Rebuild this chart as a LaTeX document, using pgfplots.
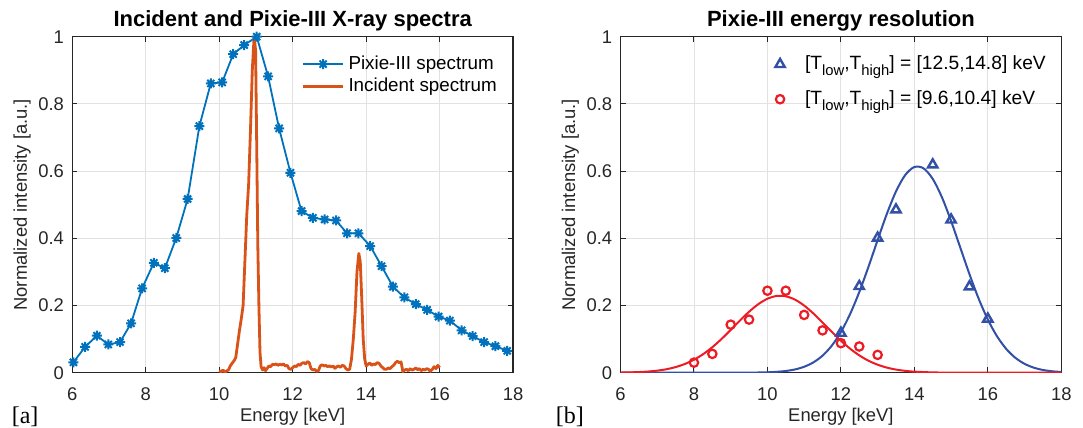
\documentclass[border=0pt]{standalone}
\usepackage{fontspec}
\setmainfont{Liberation Sans}
\newfontfamily\timesfont{Liberation Serif}
\usepackage{pgfplots}
\pgfplotsset{compat=1.18}

\definecolor{mblue}{rgb}{0,0.447,0.741}
\definecolor{morange}{rgb}{0.85,0.325,0.098}
\definecolor{fitblue}{RGB}{50,80,165}
\definecolor{fitred}{RGB}{236,28,36}
\definecolor{axgray}{RGB}{38,38,38}
\definecolor{gridgray}{RGB}{226,226,226}

% matlab-like asterisk (+ and x)
\pgfdeclareplotmark{mlstar}{%
  \pgfpathmoveto{\pgfpoint{-\pgfplotmarksize}{0pt}}\pgfpathlineto{\pgfpoint{\pgfplotmarksize}{0pt}}%
  \pgfpathmoveto{\pgfpoint{0pt}{-\pgfplotmarksize}}\pgfpathlineto{\pgfpoint{0pt}{\pgfplotmarksize}}%
  \pgfpathmoveto{\pgfpoint{-0.707\pgfplotmarksize}{-0.707\pgfplotmarksize}}\pgfpathlineto{\pgfpoint{0.707\pgfplotmarksize}{0.707\pgfplotmarksize}}%
  \pgfpathmoveto{\pgfpoint{-0.707\pgfplotmarksize}{0.707\pgfplotmarksize}}\pgfpathlineto{\pgfpoint{0.707\pgfplotmarksize}{-0.707\pgfplotmarksize}}%
  \pgfusepathqstroke}

\newcommand{\sub}[1]{\raisebox{-2.8pt}{\fontsize{7.4}{8}\selectfont #1}}

\pgfplotsset{
  mlaxis/.style={
    scale only axis, width=220.4pt, height=168pt,
    xmin=6, xmax=18, ymin=0, ymax=1,
    xtick={6,8,10,12,14,16,18}, ytick={0,0.2,0.4,0.6,0.8,1},
    tick align=inside, major tick length=2.6pt,
    axis line style={axgray, line width=0.6pt},
    tick style={axgray, line width=0.5pt},
    grid=major, major grid style={gridgray, line width=0.45pt},
    ticklabel style={font=\fontsize{9.2}{10}\selectfont, text=axgray, inner sep=1.5pt},
    xticklabel shift=6pt,
    yticklabel style={xshift=-1pt},
    yticklabel shift=1.5pt,
    /pgf/number format/assume math mode=true,
    xlabel={Energy [keV]},
    ylabel={Normalized intensity [a.u.]},
    label style={font=\fontsize{9.2}{10}\selectfont, text=axgray, inner sep=1pt},
    xlabel style={at={(axis description cs:0.5,-0.13)}, anchor=center},
    ylabel style={at={(axis description cs:-0.114,0.5)}, anchor=center},
    every axis title shift=0pt,
    title style={font=\bfseries\fontsize{11}{12}\selectfont, at={(axis description cs:0.5,1.029)}, anchor=base},
  }
}

\begin{document}
\begin{tikzpicture}
\useasboundingbox (-36.15pt,-27.65pt) rectangle (505.35pt,186.35pt);

\begin{axis}[mlaxis,
  at={(0pt,0pt)}, anchor=south west,
  title={Incident and Pixie-III X-ray spectra},
  legend style={at={(0.515,0.962)}, anchor=north west, draw=none, fill=none,
    font=\fontsize{9.4}{10}\selectfont, text=black, inner sep=1pt, row sep=-1.2pt},
  legend cell align=left,
  legend image code/.code={\draw[mark repeat=2,mark phase=2,#1] plot coordinates {(0pt,0pt) (10pt,0pt) (20pt,0pt)};},
  after end axis/.code={\node[font=\timesfont\fontsize{12}{13}\selectfont, text=black] at (axis description cs:-0.107,-0.131) {[a]};},
]
\addplot[mblue, line width=0.9pt, mark=mlstar, mark size=2.5pt, mark options={line width=1pt}] coordinates {
  (6.03,0.031) (6.35,0.077) (6.67,0.110) (6.98,0.084) (7.30,0.091)
  (7.60,0.147) (7.90,0.251) (8.22,0.327) (8.52,0.311) (8.83,0.401)
  (9.14,0.517) (9.46,0.734) (9.77,0.861) (10.08,0.864) (10.38,0.948)
  (10.68,0.975) (11.02,1.000) (11.33,0.882) (11.63,0.727) (11.94,0.595)
  (12.24,0.481) (12.55,0.461) (12.87,0.456) (13.18,0.453) (13.48,0.415)
  (13.79,0.415) (14.11,0.377) (14.42,0.317) (14.73,0.256) (15.04,0.224)
  (15.35,0.204) (15.66,0.187) (15.97,0.167) (16.28,0.155) (16.60,0.126)
  (16.90,0.109) (17.21,0.091) (17.52,0.079) (17.84,0.065)
};
\addlegendentry{Pixie-III spectrum}
\addplot[morange, line width=1.4pt, line join=round] coordinates {
  (10.00,0.006) (10.05,0.003) (10.10,0.008) (10.15,0.002) (10.20,0.005)
  (10.25,0.008) (10.30,0.020) (10.35,0.028) (10.40,0.035) (10.45,0.045)
  (10.50,0.085) (10.55,0.125) (10.60,0.160) (10.65,0.200) (10.70,0.335)
  (10.75,0.470) (10.80,0.560) (10.85,0.720) (10.90,0.900) (10.95,1.000)
  (10.99,0.960) (11.02,0.680) (11.05,0.380) (11.08,0.200) (11.11,0.060)
  (11.14,0.018) (11.18,0.008) (11.22,0.015) (11.26,0.006) (11.30,0.012)
  (11.35,0.020) (11.40,0.018) (11.45,0.025) (11.50,0.024) (11.55,0.026)
  (11.60,0.022) (11.65,0.025) (11.70,0.023) (11.75,0.026) (11.80,0.020)
  (11.85,0.022) (11.90,0.012) (11.95,0.010) (12.00,0.015) (12.05,0.020)
  (12.10,0.018) (12.15,0.025) (12.20,0.022) (12.25,0.028) (12.30,0.030)
  (12.35,0.026) (12.40,0.033) (12.45,0.030) (12.50,0.012) (12.55,0.008)
  (12.60,0.010) (12.65,0.004) (12.70,0.006) (12.75,0.020) (12.80,0.024)
  (12.85,0.020) (12.90,0.022) (12.95,0.018) (13.00,0.020) (13.05,0.017)
  (13.10,0.020) (13.15,0.013) (13.20,0.018) (13.25,0.020) (13.30,0.016)
  (13.35,0.022) (13.40,0.020) (13.45,0.012) (13.50,0.008) (13.55,0.010)
  (13.60,0.040) (13.65,0.100) (13.70,0.180) (13.75,0.300) (13.80,0.355)
  (13.84,0.330) (13.88,0.220) (13.92,0.100) (13.96,0.040) (14.00,0.020)
  (14.05,0.025) (14.10,0.029) (14.15,0.022) (14.20,0.026) (14.25,0.024)
  (14.30,0.030) (14.35,0.028) (14.40,0.020) (14.45,0.015) (14.50,0.010)
  (14.55,0.010) (14.60,0.014) (14.65,0.012) (14.70,0.018) (14.75,0.022)
  (14.80,0.030) (14.85,0.034) (14.90,0.030) (14.95,0.032) (15.00,0.003)
  (15.05,0.008) (15.10,0.010) (15.15,0.006) (15.20,0.012) (15.25,0.008)
  (15.30,0.010) (15.35,0.014) (15.40,0.009) (15.45,0.012) (15.50,0.006)
  (15.55,0.010) (15.60,0.008) (15.65,0.012) (15.70,0.010) (15.75,0.004)
  (15.80,0.010) (15.85,0.018) (15.90,0.012) (15.95,0.022) (16.00,0.015)
};
\addlegendentry{Incident spectrum}
\end{axis}

\begin{axis}[mlaxis,
  at={(274.1pt,0pt)}, anchor=south west,
  title={Pixie-III energy resolution},
  legend style={at={(0.333,0.962)}, anchor=north west, draw=none, fill=none,
    font=\fontsize{9.6}{10}\selectfont, text=black, inner sep=1pt, row sep=5pt},
  legend cell align=left,
  legend image code/.code={\draw[#1] plot coordinates {(5pt,0pt)}; \path (0pt,0pt) (15.3pt,0pt);},
  after end axis/.code={\node[font=\timesfont\fontsize{12}{13}\selectfont, text=black] at (axis description cs:-0.115,-0.131) {[b]};},
]
\addplot[fitblue, only marks, mark=triangle, mark size=2.7pt, mark options={line width=1.2pt}] coordinates {
  (12,0.118) (12.5,0.257) (13,0.401) (13.5,0.485)
  (14.5,0.619) (15,0.455) (15.5,0.256) (16,0.160)
};
\addlegendentry{[T\sub{low},T\sub{high}] = [12.5,14.8] keV}
\addplot[fitred, only marks, mark=o, mark size=2.1pt, mark options={line width=1.1pt}] coordinates {
  (8,0.030) (8.5,0.056) (9,0.143) (9.5,0.158) (10,0.244) (10.5,0.244)
  (11,0.172) (11.5,0.126) (12,0.088) (12.5,0.078) (13,0.053)
};
\addlegendentry{[T\sub{low},T\sub{high}] = [9.6,10.4] keV}
\addplot[fitblue, line width=1pt, smooth, forget plot] coordinates {
  (6,0) (7,0) (8,0) (9,0.0000) (9.5,0.0002) (10,0.0012) (10.25,0.0026)
  (10.5,0.0051) (10.75,0.0097) (11,0.0177) (11.25,0.0306) (11.5,0.0507)
  (11.75,0.0802) (12,0.121) (12.25,0.1744) (12.5,0.2399) (12.75,0.315)
  (13,0.3948) (13.25,0.4724) (13.5,0.5395) (13.75,0.5882) (14,0.6122)
  (14.25,0.6082) (14.5,0.5768) (14.75,0.5222) (15,0.4513) (15.25,0.3723)
  (15.5,0.2933) (15.75,0.2204) (16,0.1582) (16.25,0.1084) (16.5,0.0709)
  (16.75,0.0442) (17,0.0264) (17.25,0.015) (17.5,0.0081) (17.75,0.0042)
  (18,0.0021)
};
\addplot[fitred, line width=1pt, smooth, forget plot] coordinates {
  (6,0.0005) (6.25,0.001) (6.5,0.0019) (6.75,0.0035) (7,0.0061)
  (7.25,0.0103) (7.5,0.0167) (7.75,0.0259) (8,0.0386) (8.25,0.0552)
  (8.5,0.0759) (8.75,0.1003) (9,0.1272) (9.25,0.155) (9.5,0.1814)
  (9.75,0.2039) (10,0.2201) (10.25,0.2283) (10.5,0.2273) (10.75,0.2175)
  (11,0.1998) (11.25,0.1764) (11.5,0.1495) (11.75,0.1217) (12,0.0952)
  (12.25,0.0715) (12.5,0.0516) (12.75,0.0357) (13,0.0238) (13.25,0.0152)
  (13.5,0.0093) (13.75,0.0055) (14,0.0031) (14.5,0.0009) (15,0.0002)
  (16,0) (17,0) (18,0)
};
\end{axis}
\end{tikzpicture}
\end{document}
